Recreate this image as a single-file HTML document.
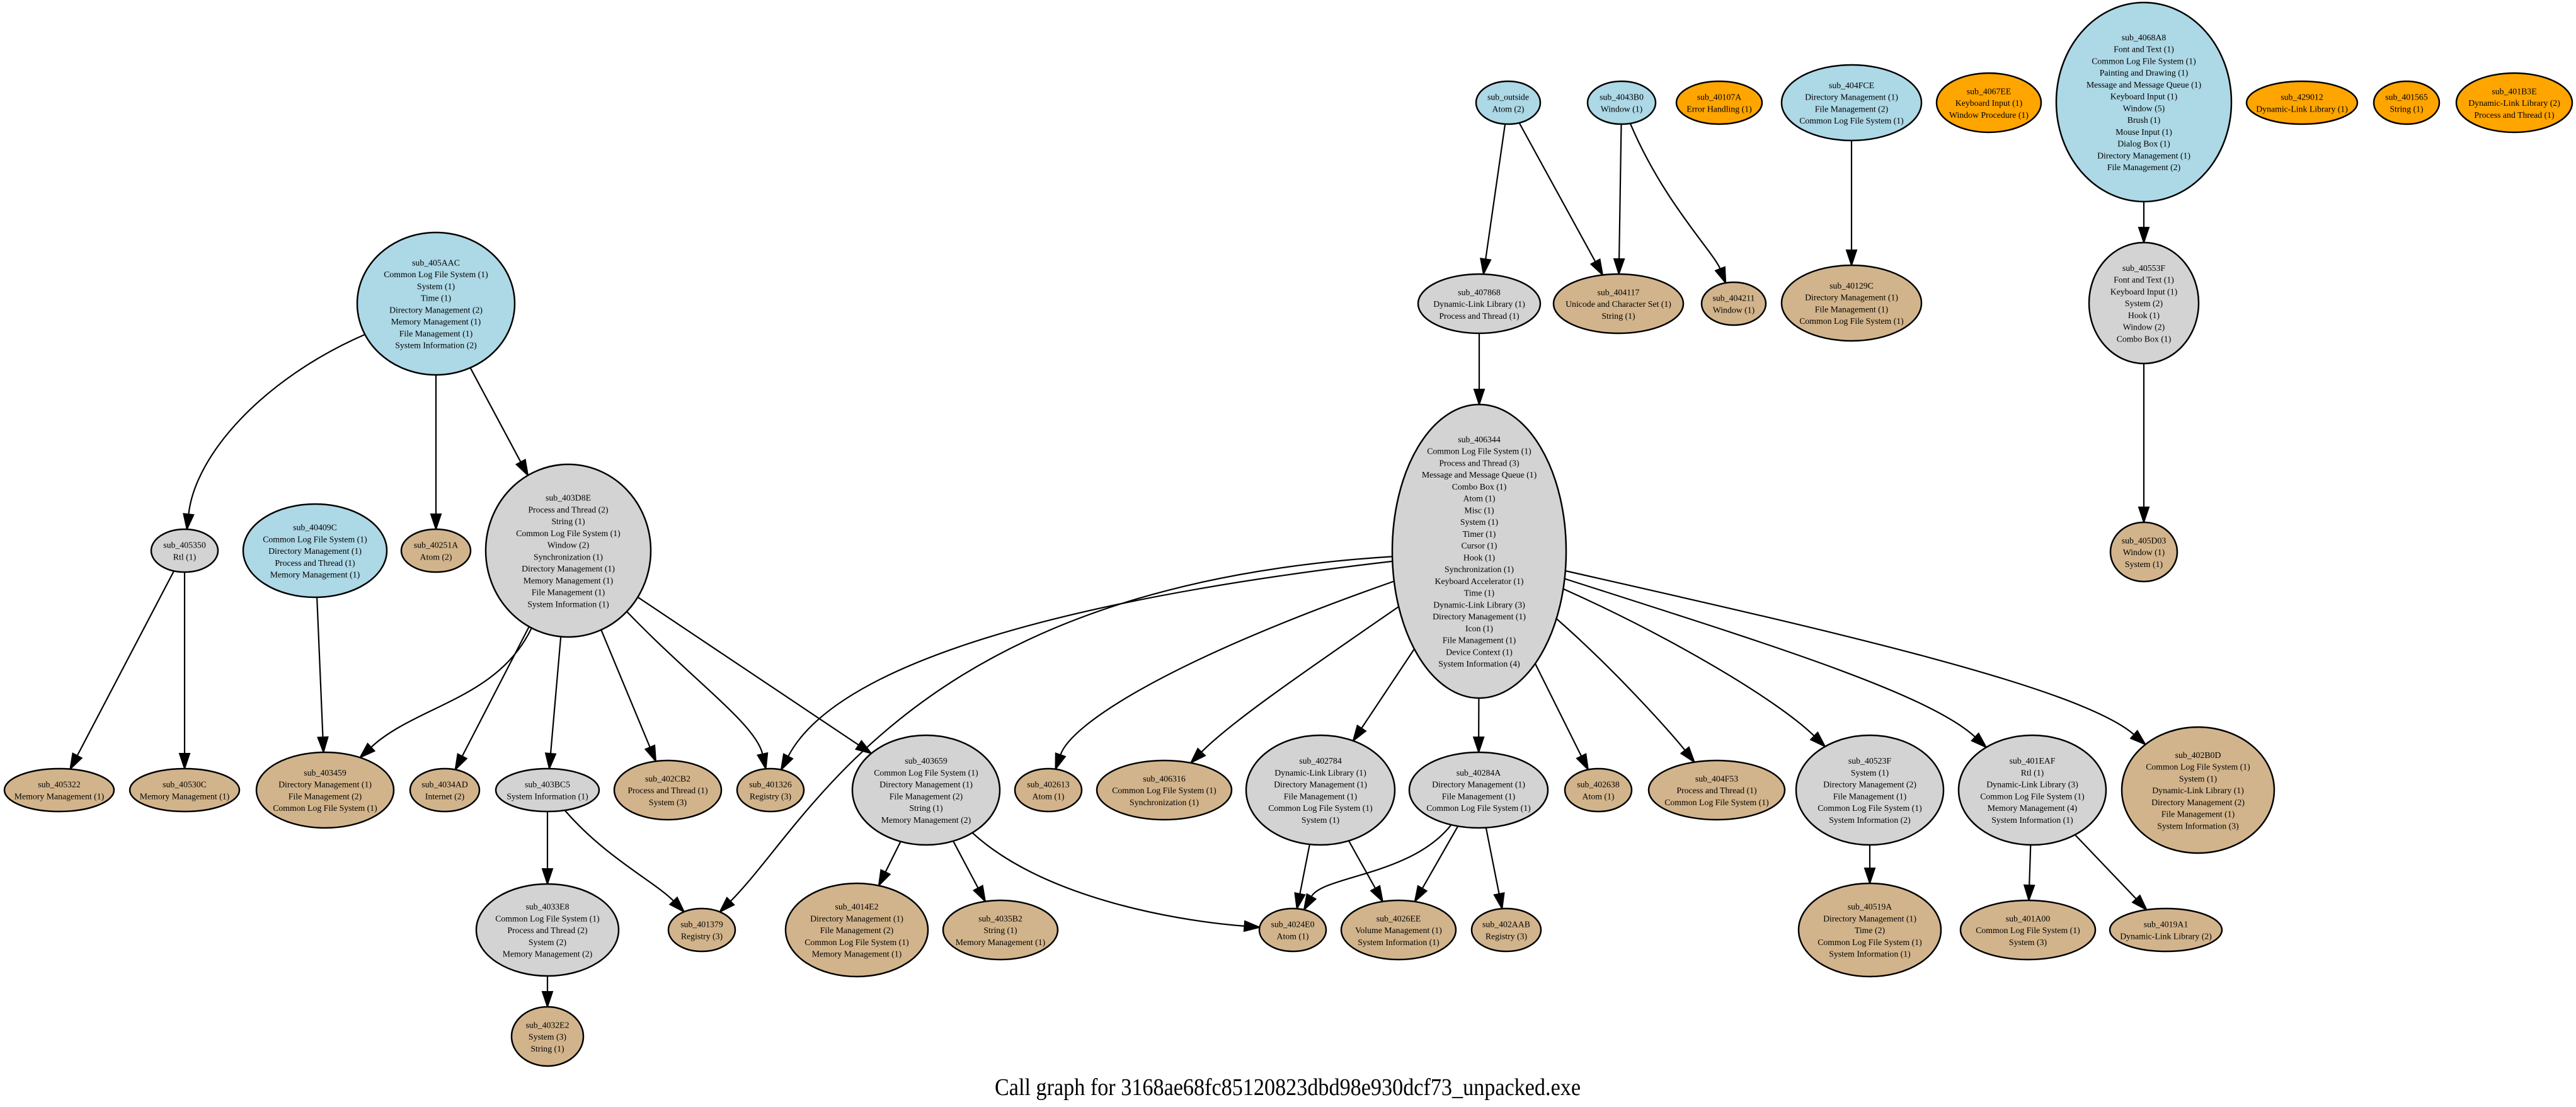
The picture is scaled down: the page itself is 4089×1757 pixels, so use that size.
<!DOCTYPE html>
<html><head><meta charset="utf-8">
<style>
html,body{margin:0;padding:0;background:#fff;}
svg{display:block;}
text{font-family:"Liberation Serif",serif;font-size:13.8px;fill:#000;}
ellipse{stroke:#000;stroke-width:2.5;}
.b{fill:#add8e6}.g{fill:#d3d3d3}.t{fill:#d2b48c}.o{fill:#ffa500}
</style></head><body>
<svg id="s" width="4089" height="1757" viewBox="0 0 4089 1757" xmlns="http://www.w3.org/2000/svg">
<rect width="4089" height="1757" fill="#fff"/>
<g id="edges" fill="none" stroke="#000" stroke-width="2.2"></g>
<g id="nodes"></g>
<g id="labels" text-anchor="middle">
<text x="2044" y="1738" style="font-size:38px" textLength="930" lengthAdjust="spacingAndGlyphs">Call graph for 3168ae68fc85120823dbd98e930dcf73_unpacked.exe</text>
</g>
</svg>
<div id="src" style="display:none">
<p id="n405AAC">692|482|125|113|b|sub_405AAC;Common Log File System (1);System (1);Time (1);Directory Management (2);Memory Management (1);File Management (1);System Information (2)</p>
<p id="n405350">293|874|53|34|g|sub_405350;Rtl (1)</p>
<p id="n40409C">500|874|114|74|b|sub_40409C;Common Log File System (1);Directory Management (1);Process and Thread (1);Memory Management (1)</p>
<p id="n40251A">692|874|55|34|t|sub_40251A;Atom (2)</p>
<p id="n403D8E">902|874|131|137|g|sub_403D8E;Process and Thread (2);String (1);Common Log File System (1);Window (2);Synchronization (1);Directory Management (1);Memory Management (1);File Management (1);System Information (1)</p>
<p id="n405322">94|1254|87|34|t|sub_405322;Memory Management (1)</p>
<p id="n40530C">293|1254|87|34|t|sub_40530C;Memory Management (1)</p>
<p id="n403459">516|1254|109|60|t|sub_403459;Directory Management (1);File Management (2);Common Log File System (1)</p>
<p id="n4034AD">706|1254|55|34|t|sub_4034AD;Internet (2)</p>
<p id="n403BC5">869|1254|82|34|g|sub_403BC5;System Information (1)</p>
<p id="n402CB2">1060|1254|85|47|t|sub_402CB2;Process and Thread (1);System (3)</p>
<p id="n401326">1223|1254|53|34|t|sub_401326;Registry (3)</p>
<p id="n403659">1470|1254|117|87|g|sub_403659;Common Log File System (1);Directory Management (1);File Management (2);String (1);Memory Management (2)</p>
<p id="n402613">1664|1254|53|34|t|sub_402613;Atom (1)</p>
<p id="n406316">1848|1254|107|47|t|sub_406316;Common Log File System (1);Synchronization (1)</p>
<p id="n402784">2096|1254|118|87|g|sub_402784;Dynamic-Link Library (1);Directory Management (1);File Management (1);Common Log File System (1);System (1)</p>
<p id="n40284A">2347|1254|110|60|g|sub_40284A;Directory Management (1);File Management (1);Common Log File System (1)</p>
<p id="n402638">2537|1254|53|34|t|sub_402638;Atom (1)</p>
<p id="n404F53">2725|1254|108|47|t|sub_404F53;Process and Thread (1);Common Log File System (1)</p>
<p id="n40523F">2968|1254|117|87|g|sub_40523F;System (1);Directory Management (2);File Management (1);Common Log File System (1);System Information (2)</p>
<p id="n401EAF">3226|1254|117|87|g|sub_401EAF;Rtl (1);Dynamic-Link Library (3);Common Log File System (1);Memory Management (4);System Information (1)</p>
<p id="n402B0D">3489|1254|121|100|t|sub_402B0D;Common Log File System (1);System (1);Dynamic-Link Library (1);Directory Management (2);File Management (1);System Information (3)</p>
<p id="n4033E8">869|1476|113|73|g|sub_4033E8;Common Log File System (1);Process and Thread (2);System (2);Memory Management (2)</p>
<p id="n401379">1114|1476|53|34|t|sub_401379;Registry (3)</p>
<p id="n4014E2">1360|1476|113|74|t|sub_4014E2;Directory Management (1);File Management (2);Common Log File System (1);Memory Management (1)</p>
<p id="n4035B2">1588|1476|91|47|t|sub_4035B2;String (1);Memory Management (1)</p>
<p id="n4024E0">2052|1476|53|34|t|sub_4024E0;Atom (1)</p>
<p id="n4026EE">2220|1476|91|47|t|sub_4026EE;Volume Management (1);System Information (1)</p>
<p id="n402AAB">2391|1476|55|34|t|sub_402AAB;Registry (3)</p>
<p id="n40519A">2968|1476|113|74|t|sub_40519A;Directory Management (1);Time (2);Common Log File System (1);System Information (1)</p>
<p id="n401A00">3219|1476|107|47|t|sub_401A00;Common Log File System (1);System (3)</p>
<p id="n4019A1">3438|1476|89|34|t|sub_4019A1;Dynamic-Link Library (2)</p>
<p id="n4032E2">869|1645|57|47|t|sub_4032E2;System (3);String (1)</p>
<p id="nout">2394|163|51|34|b|sub_outside;Atom (2)</p>
<p id="n4043B0">2574|163|54|34|b|sub_4043B0;Window (1)</p>
<p id="n40107A">2729|163|68|34|o|sub_40107A;Error Handling (1)</p>
<p id="n404FCE">2939|163|111|60|b|sub_404FCE;Directory Management (1);File Management (2);Common Log File System (1)</p>
<p id="n4067EE">3157|163|83|47|o|sub_4067EE;Keyboard Input (1);Window Procedure (1)</p>
<p id="n4068A8">3403|162|139|158|b|sub_4068A8;Font and Text (1);Common Log File System (1);Painting and Drawing (1);Message and Message Queue (1);Keyboard Input (1);Window (5);Brush (1);Mouse Input (1);Dialog Box (1);Directory Management (1);File Management (2)</p>
<p id="n429012">3654|163|88|34|o|sub_429012;Dynamic-Link Library (1)</p>
<p id="n401565">3820|163|52|34|o|sub_401565;String (1)</p>
<p id="n401B3E">3991|163|92|47|o|sub_401B3E;Dynamic-Link Library (2);Process and Thread (1)</p>
<p id="n407868">2348|482|97|47|g|sub_407868;Dynamic-Link Library (1);Process and Thread (1)</p>
<p id="n404117">2569|482|103|47|t|sub_404117;Unicode and Character Set (1);String (1)</p>
<p id="n404211">2752|482|51|34|t|sub_404211;Window (1)</p>
<p id="n40129C">2939|481|111|60|t|sub_40129C;Directory Management (1);File Management (1);Common Log File System (1)</p>
<p id="n40553F">3403|481|87|96|g|sub_40553F;Font and Text (1);Keyboard Input (1);System (2);Hook (1);Window (2);Combo Box (1)</p>
<p id="n405D03">3403|876|53|47|t|sub_405D03;Window (1);System (1)</p>
<p id="n406344">2348|875|138|233|g|sub_406344;Common Log File System (1);Process and Thread (3);Message and Message Queue (1);Combo Box (1);Atom (1);Misc (1);System (1);Timer (1);Cursor (1);Hook (1);Synchronization (1);Keyboard Accelerator (1);Time (1);Dynamic-Link Library (3);Directory Management (1);Icon (1);File Management (1);Device Context (1);System Information (4)</p>
</div>
<script>
(function(){
var NS="http://www.w3.org/2000/svg";
var N={};
var ng=document.getElementById("nodes");
var ps=document.querySelectorAll("#src p");
for(var i=0;i<ps.length;i++){
 var p=ps[i],f=p.textContent.split("|");
 var cx=+f[0],cy=+f[1],rx=+f[2],ry=+f[3],cl=f[4],lines=f[5].split(";");
 N[p.id.slice(1)]={cx:cx,cy:cy,rx:rx,ry:ry};
 var e=document.createElementNS(NS,"ellipse");
 e.setAttribute("cx",cx);e.setAttribute("cy",cy);e.setAttribute("rx",rx);e.setAttribute("ry",ry);
 e.setAttribute("class",cl);ng.appendChild(e);
 var sp=18.75,n=lines.length;
 for(var k=0;k<n;k++){
  var t=document.createElementNS(NS,"text");
  t.setAttribute("x",cx);t.setAttribute("y",(cy+(k-(n-1)/2)*sp+5).toFixed(1));
  t.setAttribute("text-anchor","middle");
  t.textContent=lines[k];ng.appendChild(t);
 }
}
function bp(n,dx,dy){var t=1/Math.sqrt((dx/n.rx)*(dx/n.rx)+(dy/n.ry)*(dy/n.ry));return [n.cx+dx*t,n.cy+dy*t];}
var E=[
["405AAC","405350",[420,600],[310,720]],
["405AAC","40251A"],["405AAC","403D8E"],
["405350","405322"],["405350","40530C"],
["40409C","403459"],
["403D8E","403459",[790,1110],[660,1120]],
["403D8E","4034AD"],["403D8E","403BC5"],["403D8E","402CB2"],
["403D8E","401326",[1100,1080],[1200,1150]],
["403D8E","403659"],
["403BC5","4033E8"],["403BC5","401379",[960,1360],[1040,1400]],
["4033E8","4032E2"],
["406344","401326",[1700,950],[1330,1050]],
["406344","401379",[1450,930],[1290,1300]],
["406344","402613",[1850,1050],[1700,1150]],
["406344","406316",[2050,1080],[1950,1150]],
["406344","402784"],["406344","40284A"],["406344","402638"],
["406344","404F53",[2560,1060],[2650,1160]],
["406344","40523F",[2650,1010],[2820,1110]],
["406344","401EAF",[2800,1020],[3060,1100]],
["406344","402B0D",[2900,1000],[3300,1090]],
["403659","4014E2"],["403659","4035B2"],
["403659","4024E0",[1650,1420],[1850,1460]],
["402784","4024E0"],["402784","4026EE"],
["40284A","4024E0",[2240,1390],[2100,1390]],
["40284A","4026EE"],["40284A","402AAB"],
["40523F","40519A"],["401EAF","401A00"],["401EAF","4019A1"],
["out","407868"],["out","404117"],
["4043B0","404117"],["4043B0","404211",[2640,320],[2720,400]],
["404FCE","40129C"],["4068A8","40553F"],["40553F","405D03"],
["407868","406344"]
];
var eg=document.getElementById("edges");
var AL=24,AW=8;
for(var j=0;j<E.length;j++){
 var a=N[E[j][0]],b=N[E[j][1]],c1=E[j][2],c2=E[j][3];
 var s,e2,dir;
 if(c1){s=bp(a,c1[0]-a.cx,c1[1]-a.cy);e2=bp(b,c2[0]-b.cx,c2[1]-b.cy);dir=[e2[0]-c2[0],e2[1]-c2[1]];}
 else{s=bp(a,b.cx-a.cx,b.cy-a.cy);e2=bp(b,a.cx-b.cx,a.cy-b.cy);dir=[e2[0]-s[0],e2[1]-s[1]];}
 var L=Math.sqrt(dir[0]*dir[0]+dir[1]*dir[1]);var ux=dir[0]/L,uy=dir[1]/L;
 var base=[e2[0]-ux*AL,e2[1]-uy*AL];
 var path=document.createElementNS(NS,"path");
 var d="M"+s[0].toFixed(1)+","+s[1].toFixed(1);
 if(c1)d+=" C"+c1[0]+","+c1[1]+" "+c2[0]+","+c2[1]+" "+base[0].toFixed(1)+","+base[1].toFixed(1);
 else d+=" L"+base[0].toFixed(1)+","+base[1].toFixed(1);
 path.setAttribute("d",d);eg.appendChild(path);
 var tri=document.createElementNS(NS,"polygon");
 tri.setAttribute("points",[e2[0],e2[1],base[0]-uy*AW,base[1]+ux*AW,base[0]+uy*AW,base[1]-ux*AW].map(function(v){return v.toFixed(1)}).join(" "));
 tri.setAttribute("fill","#000");tri.setAttribute("stroke","#000");tri.setAttribute("stroke-width","2");
 eg.appendChild(tri);
}
})();
</script>
</body></html>
